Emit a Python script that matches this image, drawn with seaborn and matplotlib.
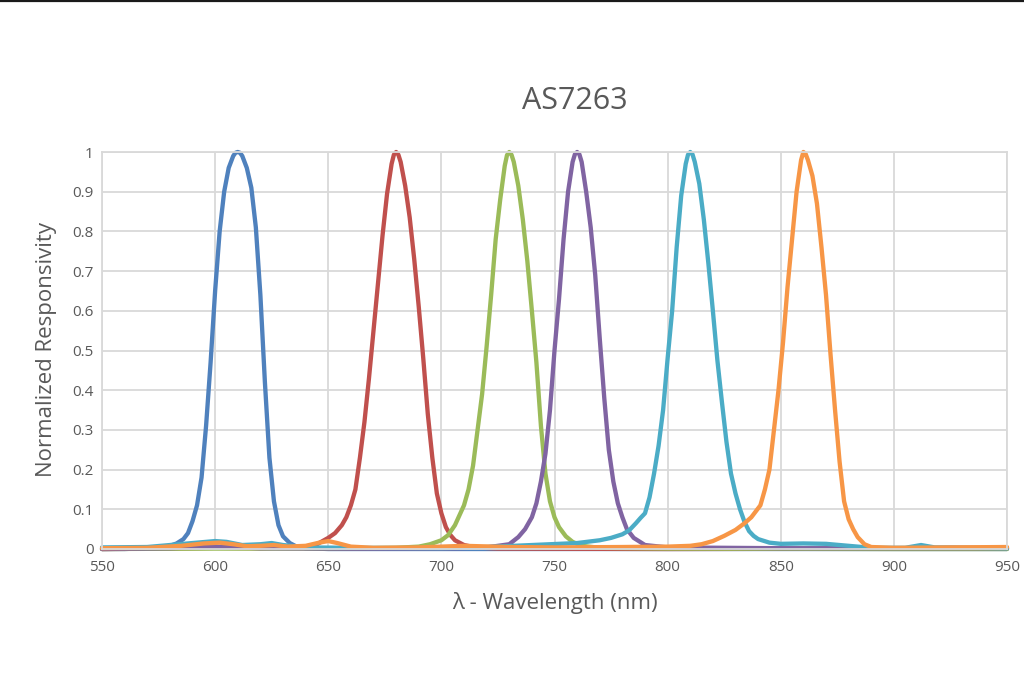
import numpy as np
import pandas as pd
import matplotlib
matplotlib.use("Agg")
import matplotlib.pyplot as plt
from matplotlib.lines import Line2D
import seaborn as sns

# channel responses
ch_r_wl = [550, 560, 570, 575, 580, 583, 586, 588, 590, 592, 594, 596, 598, 600, 602, 604, 606, 608, 609, 610, 611,
           612, 614, 616, 618, 620, 622, 624, 626, 628, 630, 633, 636, 640, 650, 700, 750, 800, 850, 900, 950]
ch_r_val = [0, 0, 0.002, 0.004, 0.008, 0.014, 0.025, 0.04, 0.07, 0.11, 0.18, 0.31, 0.47, 0.65, 0.80, 0.90, 0.96, 0.99, 0.998, 1.0, 0.998,
            0.99, 0.96, 0.91, 0.81, 0.64, 0.42, 0.23, 0.12, 0.06, 0.032, 0.015, 0.006, 0.002, 0, 0, 0, 0, 0, 0, 0]

ch_s_wl = [550, 580, 600, 620, 640, 645, 650, 653, 656, 658, 660, 662, 664, 666, 668, 670, 672, 674, 676, 678, 679, 680, 681,
           682, 684, 686, 688, 690, 692, 694, 696, 698, 700, 702, 704, 706, 710, 715, 725, 800, 900, 925, 950]
ch_s_val = [0, 0.001, 0.003, 0.002, 0.005, 0.012, 0.028, 0.04, 0.06, 0.08, 0.11, 0.15, 0.23, 0.32, 0.43, 0.55, 0.67, 0.79, 0.895, 0.97, 0.993, 1.0, 0.993,
            0.975, 0.915, 0.835, 0.73, 0.61, 0.48, 0.34, 0.23, 0.14, 0.09, 0.055, 0.035, 0.022, 0.01, 0.004, 0.001, 0, 0.001, 0.003, 0.002]

ch_t_wl = [550, 600, 650, 680, 690, 695, 700, 703, 706, 708, 710, 712, 714, 716, 718, 720, 722, 724, 726, 728, 729, 730, 731,
           732, 734, 736, 738, 740, 742, 744, 746, 748, 750, 752, 755, 758, 762, 770, 800, 900, 950]
ch_t_val = [0, 0.001, 0.001, 0.003, 0.006, 0.012, 0.022, 0.035, 0.06, 0.085, 0.11, 0.15, 0.21, 0.3, 0.39, 0.51, 0.64, 0.78, 0.88, 0.965, 0.992, 1.0, 0.993,
            0.975, 0.915, 0.83, 0.725, 0.6, 0.47, 0.31, 0.19, 0.12, 0.08, 0.055, 0.032, 0.018, 0.008, 0.003, 0.001, 0, 0]

ch_u_wl = [550, 580, 600, 620, 660, 700, 720, 730, 734, 737, 740, 742, 744, 746, 748, 750, 752, 754, 756, 758, 759, 760, 761,
           762, 764, 766, 768, 770, 772, 774, 776, 778, 780, 782, 785, 790, 800, 850, 900, 950]
ch_u_val = [0, 0.002, 0.006, 0.002, 0.001, 0.001, 0.004, 0.012, 0.03, 0.05, 0.08, 0.115, 0.17, 0.24, 0.35, 0.5, 0.63, 0.78, 0.9, 0.975, 0.994, 1.0, 0.994,
            0.975, 0.9, 0.81, 0.69, 0.53, 0.38, 0.25, 0.17, 0.115, 0.08, 0.05, 0.028, 0.01, 0.004, 0.002, 0.002, 0.002]

ch_v_wl = [550, 570, 590, 600, 605, 612, 620, 625, 630, 640, 660, 700, 720, 740, 760, 770, 775, 780, 783, 786, 788,
           790, 792, 794, 796, 798, 800, 802, 804, 806, 808, 809, 810, 811, 812, 814, 816, 818, 820, 822, 824, 826, 828,
           830, 832, 834, 836, 838, 840, 845, 850, 860, 870, 880, 890, 905, 912, 918, 950]
ch_v_val = [0.004, 0.005, 0.015, 0.02, 0.018, 0.01, 0.012, 0.015, 0.01, 0.004, 0.003, 0.002, 0.005, 0.01, 0.015, 0.022, 0.028, 0.037, 0.047, 0.065, 0.078,
            0.09, 0.13, 0.19, 0.26, 0.35, 0.48, 0.6, 0.76, 0.89, 0.97, 0.993, 1.0, 0.994, 0.975, 0.92, 0.83, 0.72, 0.6, 0.475, 0.37, 0.27, 0.19,
            0.14, 0.1, 0.068, 0.045, 0.033, 0.025, 0.016, 0.013, 0.014, 0.013, 0.008, 0.003, 0.003, 0.01, 0.004, 0.002]

ch_w_wl = [550, 570, 585, 595, 602, 608, 614, 620, 626, 632, 640, 646, 650, 654, 660, 670, 690, 710, 730, 750, 780,
           800, 810, 815, 820, 825, 830, 834, 837, 839, 841, 843, 845, 847, 849, 851, 853, 855, 857, 859, 860, 861,
           862, 864, 866, 868, 870, 872, 874, 876, 878, 880, 882, 884, 887, 890, 900, 950]
ch_w_val = [0.002, 0.003, 0.008, 0.014, 0.016, 0.012, 0.007, 0.008, 0.01, 0.006, 0.008, 0.016, 0.02, 0.015, 0.006, 0.003, 0.004, 0.008, 0.005, 0.004, 0.005,
            0.006, 0.008, 0.012, 0.02, 0.033, 0.048, 0.065, 0.08, 0.095, 0.11, 0.15, 0.2, 0.3, 0.4, 0.52, 0.66, 0.78, 0.9, 0.98, 1.0, 0.995,
            0.98, 0.94, 0.87, 0.76, 0.64, 0.49, 0.35, 0.22, 0.12, 0.075, 0.05, 0.03, 0.012, 0.005, 0.003, 0.005]

channels = ["R", "S", "T", "U", "V", "W"]
colors = ["#4F81BD", "#C0504D", "#9BBB59", "#8064A2", "#4BACC6", "#F79646"]

series = [(ch_r_wl, ch_r_val), (ch_s_wl, ch_s_val), (ch_t_wl, ch_t_val),
          (ch_u_wl, ch_u_val), (ch_v_wl, ch_v_val), (ch_w_wl, ch_w_val)]
frames = []
for name, (wl, val) in zip(channels, series):
    frames.append(pd.DataFrame({"wl": wl, "resp": val, "ch": name}))
df = pd.concat(frames, ignore_index=True)

sns.set_theme(style="whitegrid")
plt.rcParams["font.family"] = ["Open Sans", "DejaVu Sans"]

fig = plt.figure(figsize=(10.24, 6.8), dpi=100)
ax = fig.add_axes([102 / 1024, 1 - 549 / 680, 905 / 1024, 397 / 680])

sns.lineplot(data=df, x="wl", y="resp", hue="ch", palette=colors, hue_order=channels,
             linewidth=3.1, estimator=None, legend=False, ax=ax)
for ln in ax.get_lines():
    ln.set_clip_on(False)
    ln.set_solid_capstyle("round")
    ln.set_solid_joinstyle("round")

grid_c = "#D9D9D9"
ax.set_xlim(550, 950)
ax.set_ylim(0, 1)
ax.set_xticks(np.arange(550, 951, 50))
ax.set_yticks(np.arange(0, 1.01, 0.1))
ax.set_yticklabels(["0", "0.1", "0.2", "0.3", "0.4", "0.5", "0.6", "0.7", "0.8", "0.9", "1"])
ax.grid(True, color=grid_c, linewidth=1.3)
ax.set_axisbelow(True)
for sp in ax.spines.values():
    sp.set_color(grid_c)
    sp.set_linewidth(1.3)
ax.tick_params(length=0, labelsize=11, colors="#595959")
ax.tick_params(axis="x", pad=8)
ax.tick_params(axis="y", pad=6)
ax.set_xlabel("")
ax.set_ylabel("")

fig.text(575 / 1024, 1 - 101 / 680, "AS7263", ha="center", va="center", fontsize=22, color="#595959")
fig.text(555 / 1024, 1 - 603 / 680, "λ - Wavelength (nm)", ha="center", va="center", fontsize=16, color="#595959")
fig.text(47 / 1024, 1 - 350 / 680, "Normalized Responsivity", ha="center", va="center", rotation=90,
         fontsize=16, color="#595959")

fig.add_artist(Line2D([0, 1], [0.9985, 0.9985], transform=fig.transFigure, color="#1a1a1a", linewidth=1.6))

fig.savefig("out.png", dpi=100, facecolor="white")
